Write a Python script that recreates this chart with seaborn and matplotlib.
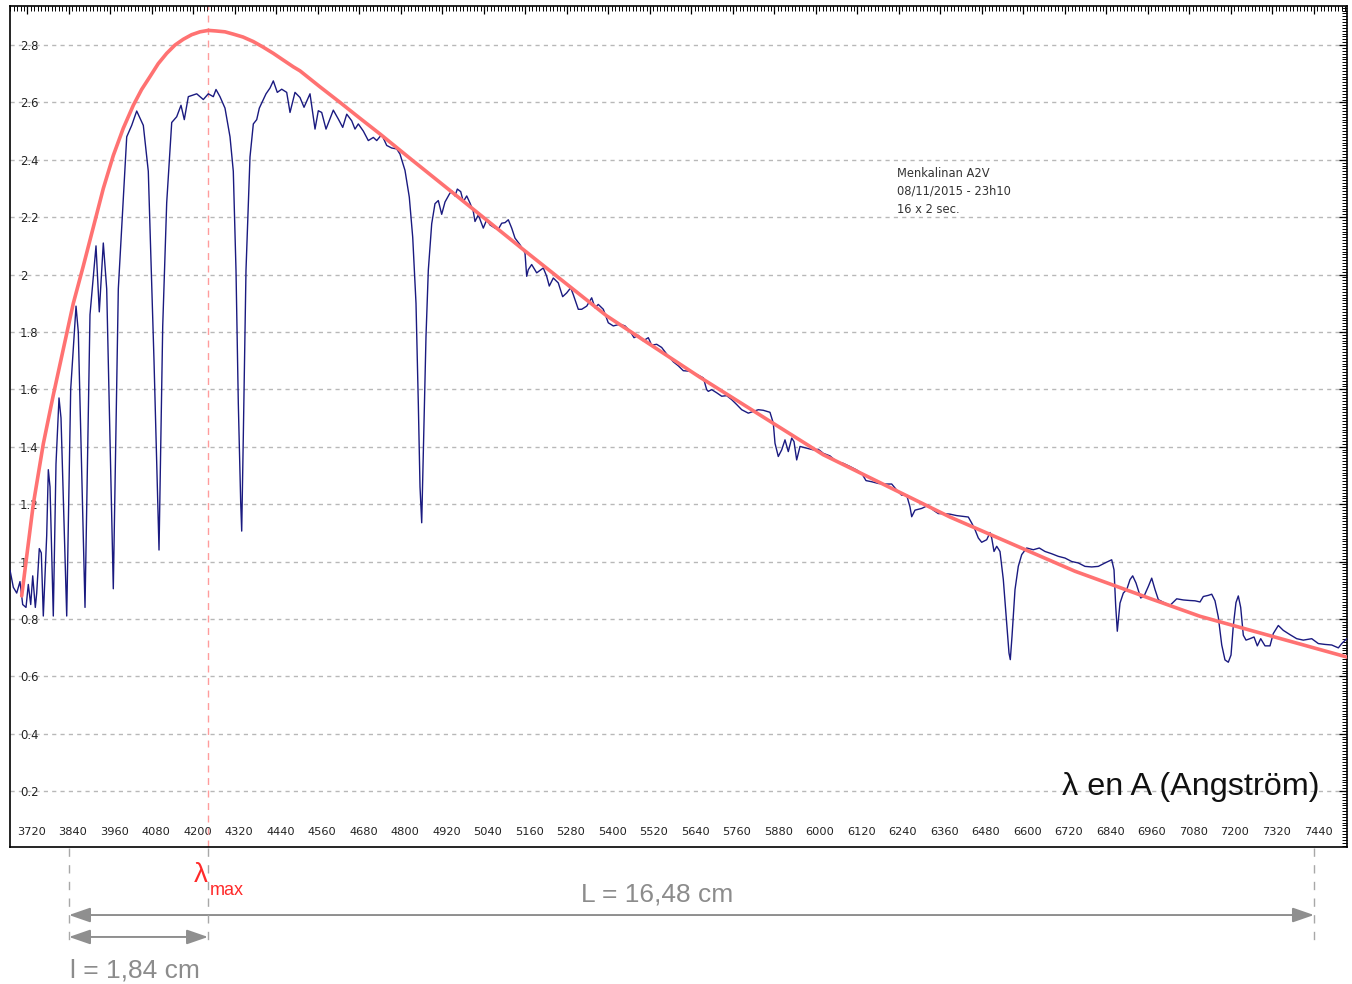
import matplotlib
matplotlib.use('Agg')
import matplotlib.pyplot as plt
import matplotlib.transforms as mtransforms
from matplotlib.lines import Line2D
from matplotlib.ticker import MultipleLocator, FuncFormatter
import seaborn as sns
import pandas as pd

# Spectre de Menkalinan : longueur d'onde (A) / flux relatif
wavelength = [
    3669.4, 3679.0, 3688.8, 3698.3, 3706.1, 3715.7, 3722.3, 3729.3, 3735.1, 3742.6,
    3746.6, 3754.1, 3759.9, 3765.7, 3775.5, 3780.2, 3785.1, 3794.6, 3802.4, 3811.1,
    3816.9, 3833.4, 3844.9, 3860.3, 3866.9, 3886.3, 3900.7, 3918.1, 3927.6, 3939.2,
    3949.0, 3968.1, 3982.6, 4006.9, 4021.3, 4035.8, 4054.9, 4069.3, 4085.8, 4100.3,
    4111.0, 4122.5, 4137.0, 4151.4, 4163.9, 4173.4, 4185.0, 4209.3, 4228.4, 4242.8,
    4257.3, 4265.1, 4276.6, 4291.1, 4305.6, 4315.1, 4322.9, 4329.6, 4336.5, 4339.4,
    4344.1, 4351.8, 4363.4, 4373.0, 4382.8, 4390.3, 4401.9, 4409.7, 4421.2, 4430.8,
    4442.3, 4455.1, 4469.5, 4479.1, 4493.5, 4508.0, 4519.6, 4536.9, 4551.4, 4560.9,
    4570.7, 4583.2, 4604.3, 4618.8, 4631.5, 4643.1, 4657.5, 4667.0, 4676.6, 4691.1,
    4705.5, 4720.0, 4729.8, 4744.2, 4758.7, 4773.2, 4787.6, 4797.1, 4811.6, 4824.0,
    4833.9, 4843.4, 4850.1, 4855.0, 4859.9, 4864.5, 4872.3, 4879.0, 4888.8, 4898.3,
    4907.9, 4917.7, 4927.3, 4939.7, 4946.6, 4956.2, 4962.9, 4972.7, 4980.2, 4990.0,
    4999.6, 5009.1, 5014.0, 5023.6, 5038.0, 5047.8, 5057.4, 5071.8, 5081.4, 5091.2,
    5100.8, 5110.3, 5120.1, 5129.7, 5144.1, 5158.6, 5163.5, 5168.1, 5177.9, 5192.4,
    5211.5, 5221.3, 5228.8, 5240.4, 5254.8, 5267.5, 5279.1, 5290.7, 5298.2, 5312.7,
    5322.5, 5337.0, 5351.4, 5361.0, 5370.5, 5385.0, 5399.4, 5413.9, 5433.3, 5447.8,
    5462.2, 5473.8, 5486.2, 5500.7, 5515.1, 5524.9, 5539.4, 5553.8, 5568.3, 5587.4,
    5601.9, 5616.3, 5635.7, 5655.1, 5674.2, 5684.0, 5688.6, 5698.4, 5712.9, 5727.4,
    5741.8, 5756.3, 5770.7, 5785.2, 5804.3, 5818.7, 5833.2, 5847.6, 5867.0, 5876.6,
    5881.5, 5891.0, 5900.8, 5910.4, 5919.9, 5929.8, 5936.4, 5944.2, 5953.8, 5973.1,
    5992.2, 6006.7, 6021.1, 6040.5, 6059.9, 6079.0, 6098.4, 6117.7, 6132.2, 6144.6,
    6161.1, 6180.2, 6199.6, 6219.0, 6233.4, 6247.9, 6262.3, 6271.9, 6276.8, 6286.3,
    6305.7, 6324.8, 6339.2, 6353.7, 6368.2, 6387.5, 6406.9, 6426.0, 6440.5, 6450.3,
    6459.8, 6469.4, 6479.2, 6493.7, 6503.2, 6508.1, 6514.8, 6522.6, 6532.1, 6541.7,
    6551.5, 6558.1, 6561.9, 6566.8, 6575.5, 6585.0, 6594.9, 6609.3, 6628.4, 6645.8,
    6662.2, 6681.6, 6700.7, 6720.1, 6739.4, 6758.5, 6777.9, 6797.3, 6816.4, 6835.8,
    6855.1, 6861.8, 6866.7, 6871.3, 6879.1, 6888.7, 6898.5, 6908.1, 6915.8, 6925.4,
    6939.0, 6948.5, 6961.0, 6970.8, 6980.4, 6990.0, 7004.4, 7023.7, 7043.1, 7062.2,
    7081.5, 7096.0, 7110.5, 7120.0, 7134.5, 7144.3, 7153.8, 7163.4, 7173.3, 7182.7,
    7192.3, 7200.1, 7206.8, 7214.5, 7221.2, 7228.1, 7235.7, 7243.5, 7255.0, 7266.6,
    7276.2, 7286.0, 7298.4, 7312.8, 7322.4, 7336.9, 7351.3, 7370.7, 7390.1, 7409.2,
    7433.5, 7452.6, 7472.0, 7491.3, 7510.5, 7520.3, 7534.7,
]
flux = [
    0.97, 0.91, 0.89, 0.93, 0.85, 0.84, 0.92, 0.85, 0.95, 0.84,
    0.89, 1.045, 1.03, 0.81, 1.09, 1.32, 1.26, 0.81, 1.34, 1.57,
    1.50, 0.81, 1.60, 1.89, 1.80, 0.84, 1.86, 2.10, 1.87, 2.11,
    1.95, 0.905, 1.95, 2.48, 2.52, 2.57, 2.52, 2.36, 1.70, 1.04,
    1.82, 2.25, 2.53, 2.55, 2.59, 2.54, 2.62, 2.63, 2.61, 2.63,
    2.62, 2.645, 2.62, 2.58, 2.48, 2.36, 2.015, 1.55, 1.205, 1.106,
    1.44, 2.015, 2.41, 2.525, 2.54, 2.58, 2.61, 2.63, 2.65, 2.675,
    2.635, 2.646, 2.635, 2.565, 2.635, 2.617, 2.583, 2.63, 2.507, 2.571,
    2.565, 2.507, 2.573, 2.542, 2.513, 2.559, 2.536, 2.507, 2.525, 2.50,
    2.467, 2.478, 2.467, 2.488, 2.45, 2.441, 2.438, 2.42, 2.363, 2.27,
    2.13, 1.90, 1.55, 1.26, 1.135, 1.378, 1.784, 2.015, 2.177, 2.247,
    2.258, 2.21, 2.253, 2.28, 2.292, 2.274, 2.298, 2.289, 2.254, 2.274,
    2.249, 2.22, 2.185, 2.208, 2.162, 2.191, 2.173, 2.162, 2.158, 2.179,
    2.181, 2.191, 2.162, 2.127, 2.104, 2.075, 1.994, 2.017, 2.035, 2.006,
    2.023, 1.994, 1.96, 1.988, 1.971, 1.923, 1.936, 1.954, 1.93, 1.879,
    1.879, 1.89, 1.919, 1.884, 1.896, 1.879, 1.832, 1.821, 1.827, 1.821,
    1.803, 1.78, 1.788, 1.769, 1.78, 1.754, 1.757, 1.746, 1.723, 1.696,
    1.682, 1.665, 1.663, 1.652, 1.64, 1.599, 1.593, 1.599, 1.588, 1.576,
    1.578, 1.564, 1.547, 1.529, 1.517, 1.523, 1.529, 1.527, 1.52, 1.482,
    1.412, 1.366, 1.389, 1.424, 1.383, 1.43, 1.418, 1.354, 1.401, 1.395,
    1.389, 1.391, 1.377, 1.368, 1.348, 1.342, 1.331, 1.319, 1.307, 1.282,
    1.278, 1.272, 1.27, 1.27, 1.249, 1.231, 1.231, 1.19, 1.156, 1.179,
    1.185, 1.196, 1.179, 1.167, 1.167, 1.165, 1.16, 1.157, 1.155, 1.134,
    1.111, 1.082, 1.067, 1.076, 1.101, 1.082, 1.035, 1.053, 1.035, 0.937,
    0.786, 0.681, 0.658, 0.739, 0.902, 0.983, 1.024, 1.047, 1.041, 1.047,
    1.035, 1.027, 1.018, 1.012, 1.0, 0.995, 0.983, 0.981, 0.983, 0.995,
    1.006, 0.971, 0.844, 0.757, 0.855, 0.89, 0.902, 0.937, 0.95, 0.925,
    0.873, 0.879, 0.913, 0.942, 0.902, 0.867, 0.858, 0.847, 0.87, 0.866,
    0.864, 0.863, 0.859, 0.878, 0.882, 0.886, 0.863, 0.806, 0.709, 0.657,
    0.649, 0.674, 0.777, 0.857, 0.88, 0.84, 0.743, 0.726, 0.731, 0.737,
    0.706, 0.731, 0.706, 0.706, 0.749, 0.777, 0.76, 0.745, 0.731, 0.726,
    0.731, 0.714, 0.711, 0.709, 0.699, 0.714, 0.731,
]

# Courbe du corps noir (rouge)
planck_wavelength = [
    3703.2, 3736.8, 3765.7, 3794.6, 3823.5, 3852.5, 3881.4, 3910.3, 3939.2, 3968.1,
    3997.0, 4026.0, 4050.0, 4074.2, 4098.0, 4122.5, 4146.6, 4170.5, 4194.7, 4218.8,
    4242.8, 4265.1, 4291.1, 4315.1, 4343.0, 4373.0, 4401.0, 4430.8, 4459.0, 4488.6,
    4508.0, 4565.0, 4623.7, 4681.0, 4739.3, 4826.0, 4941.7, 5153.7, 5394.8, 5664.6,
    6021.1, 6387.5, 6749.0, 6966.0, 7110.5, 7535.5,
]
planck_flux = [
    0.88, 1.20, 1.41, 1.58, 1.74, 1.90, 2.03, 2.165, 2.30, 2.415,
    2.51, 2.59, 2.645, 2.69, 2.735, 2.771, 2.800, 2.82, 2.836, 2.846,
    2.851, 2.849, 2.846, 2.838, 2.828, 2.812, 2.793, 2.771, 2.748, 2.724,
    2.71, 2.655, 2.60, 2.545, 2.49, 2.405, 2.293, 2.087, 1.856, 1.642,
    1.372, 1.155, 0.966, 0.871, 0.809, 0.667,
]

lambda_max = 4242
L_start, L_end = 3840, 7440
x_ticks = list(range(3720, 7441, 120))
y_ticks = [0.2, 0.4, 0.6, 0.8, 1.0, 1.2, 1.4, 1.6, 1.8, 2.0, 2.2, 2.4, 2.6, 2.8]
info_lines = ["Menkalinan A2V", "08/11/2015 - 23h10", "16 x 2 sec."]

sns.set_style('white')
plt.rcParams['font.family'] = ['DejaVu Sans']

fig = plt.figure(figsize=(13.52, 9.84), dpi=100)
ax = fig.add_axes([10 / 1352, 137 / 984, 1337 / 1352, 841 / 984])

spec = pd.DataFrame({'lam': wavelength, 'flux': flux})
fit = pd.DataFrame({'lam': planck_wavelength, 'flux': planck_flux})
sns.lineplot(data=spec, x='lam', y='flux', estimator=None, color='#1a1a80',
             lw=1.0, ax=ax, zorder=3)
sns.lineplot(data=fit, x='lam', y='flux', estimator=None, color='#ff7272',
             lw=2.6, ax=ax, zorder=4)
ax.axvline(lambda_max, color='#ff9c9c', lw=1, ls=(0, (5, 4)), zorder=2)

ax.set_xlim(3669.4, 7535.5)
ax.set_ylim(0.005, 2.936)
ax.set_xlabel('')
ax.set_ylabel('')

# grille et règles des axes
ax.set_axisbelow(True)
ax.yaxis.grid(True, ls=(0, (3, 3)), color='#b8b8b8', lw=1)
ax.xaxis.grid(False)
for sp in ax.spines.values():
    sp.set_color('black')
    sp.set_linewidth(1.2)

ax.set_xticks(x_ticks)
ax.set_yticks(y_ticks)
ax.yaxis.set_major_formatter(FuncFormatter(lambda v, p: f'{v:g}'))
ax.xaxis.set_minor_locator(MultipleLocator(10))
ax.yaxis.set_minor_locator(MultipleLocator(0.01))
ax.tick_params(which='both', direction='in', top=True, right=True, color='black')
ax.tick_params(which='major', length=6, width=0.9)
ax.tick_params(which='minor', length=3.5, width=0.7)
ax.tick_params(axis='x', pad=-10.5, labelsize=8.2, labelcolor='#222222')
ax.tick_params(axis='y', pad=-7.2, labelsize=8.4, labelcolor='#222222')
shift = mtransforms.ScaledTranslation(4 / 100, 0, fig.dpi_scale_trans)
for lab in ax.get_xticklabels():
    lab.set_va('center')
    lab.set_transform(lab.get_transform() + shift)
for lab in ax.get_yticklabels():
    lab.set_ha('left')

ax.text(7457, 0.215, 'λ en A (Angström)', ha='right', va='center',
        fontsize=23.3, family='Liberation Sans', color='#111111')
ax.text(6234, 2.375, '\n'.join(info_lines), ha='left', va='top',
        fontsize=8.3, linespacing=1.5, color='#333333')

# mesures sous le graphique
trans = mtransforms.blended_transform_factory(ax.transData, fig.transFigure)
for xv in [L_start, lambda_max, L_end]:
    fig.add_artist(Line2D([xv, xv], [0.1382, 0.0396], transform=trans,
                          color='#a8a8a8', lw=1, ls=(0, (6, 6))))

arrow = dict(arrowstyle='<|-|>,head_length=1.3,head_width=0.45', mutation_scale=10,
             color='#8f8f8f', lw=1.4, shrinkA=0, shrinkB=0)
ax.annotate('', xy=(L_end, 0.0701), xytext=(L_start, 0.0701), xycoords=trans,
            textcoords=trans, arrowprops=arrow, annotation_clip=False)
ax.annotate('', xy=(lambda_max, 0.0478), xytext=(L_start, 0.0478), xycoords=trans,
            textcoords=trans, arrowprops=arrow, annotation_clip=False)

ax.text(5540, 0.0905, 'L = 16,48 cm', transform=trans, ha='center', va='center',
        fontsize=19, family='Liberation Sans', color='#8c8c8c')
ax.text(3843, 0.0142, 'l = 1,84 cm', transform=trans, ha='left', va='center',
        fontsize=19, family='Liberation Sans', color='#8c8c8c')
ax.text(lambda_max, 0.1108, 'λ', transform=trans, ha='right', va='center',
        fontsize=20, family='Liberation Sans', color='#ff2a2a')
ax.text(lambda_max + 5, 0.0955, 'max', transform=trans, ha='left', va='center',
        fontsize=13, family='Liberation Sans', color='#ff2a2a')

fig.savefig('out.png', dpi=100, facecolor='white')
